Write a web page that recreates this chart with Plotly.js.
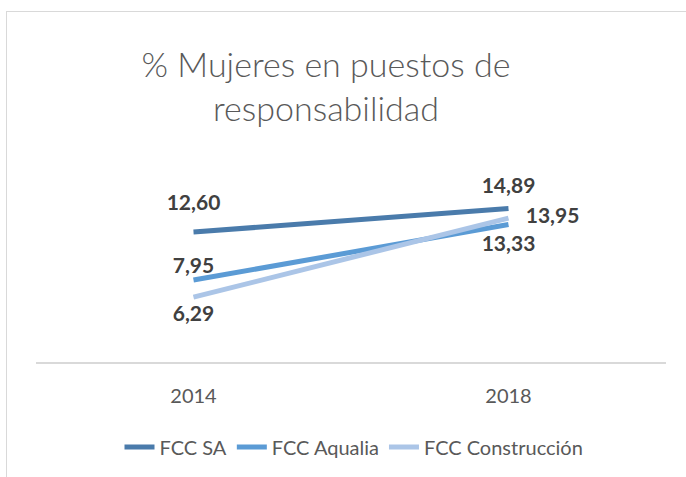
<!DOCTYPE html>
<html>
<head>
<meta charset="utf-8">
<script src="https://cdn.plot.ly/plotly-3.0.1.min.js"></script>
<style>
  html, body { margin: 0; padding: 0; background: #fff; }
  #wrap { position: relative; width: 686px; height: 477px; }
  #chart { width: 686px; height: 477px; }
  #frame { position: absolute; left: 6px; top: 11px; right: -2px; bottom: -2px;
           border-left: 1.5px solid #d9d9d9; border-top: 1.5px solid #d9d9d9; pointer-events: none; }
</style>
</head>
<body>
<div id="wrap">
  <div id="chart"></div>
  <div id="frame"></div>
</div>
<script>
const years = ['2014', '2018'];
const seriesNames = ['FCC SA', 'FCC Aqualia', 'FCC Construcción'];
const fccSA = [12.60, 14.89];
const fccAqualia = [7.95, 13.33];
const fccConstruccion = [6.29, 13.95];

const colors = ['#4a7bab', '#5b9bd5', '#abc5e7'];
const positions = [
  ['top center', 'top center'],
  ['top center', 'bottom center'],
  ['bottom center', 'middle right']
];
// invisible marker sizes only used to offset the data labels from the line ends
const labelOffsets = [
  [25, 14],
  [2, 16],
  [12, 26]
];
const values = [fccSA, fccAqualia, fccConstruccion];
const fmt = v => v.toFixed(2).replace('.', ',');
const FONT = 'Lato, "Open Sans", sans-serif';

const lineTraces = values.map((vals, i) => ({
  type: 'scatter',
  mode: 'lines',
  name: seriesNames[i],
  x: years,
  y: vals,
  line: { color: colors[i], width: 5 },
  cliponaxis: false,
  hoverinfo: 'skip'
}));

const labelTraces = values.map((vals, i) => ({
  type: 'scatter',
  mode: 'markers+text',
  name: seriesNames[i],
  showlegend: false,
  x: years,
  y: vals,
  text: vals.map(fmt),
  textposition: positions[i],
  textfont: { family: FONT, size: 21, color: '#404040', weight: 'bold' },
  marker: { size: labelOffsets[i], opacity: 0, color: colors[i] },
  cliponaxis: false,
  hoverinfo: 'skip'
}));

const layout = {
  width: 686,
  height: 477,
  margin: { l: 36, r: 20, t: 197, b: 115 },
  paper_bgcolor: '#ffffff',
  plot_bgcolor: '#ffffff',
  font: { family: FONT, color: '#595959' },
  title: {
    text: '% Mujeres en puestos de<br>responsabilidad',
    font: { family: FONT, size: 34, color: '#595959', weight: 300 },
    x: 326 / 686, xref: 'container', xanchor: 'center',
    y: 1 - 77 / 477, yref: 'container', yanchor: 'top'
  },
  xaxis: {
    type: 'category',
    range: [-0.5, 1.5],
    showline: true, linecolor: '#d9d9d9', linewidth: 1.5,
    showgrid: false, zeroline: false,
    ticks: '',
    ticklabelstandoff: 15,
    tickfont: { size: 20, color: '#595959' }
  },
  yaxis: {
    range: [0, 16],
    visible: false,
    showgrid: false, zeroline: false
  },
  showlegend: true,
  legend: {
    orientation: 'h',
    x: 354 / 686, xref: 'container', xanchor: 'center',
    y: 1 - 447 / 477, yref: 'container', yanchor: 'middle',
    font: { size: 20, color: '#595959' },
    traceorder: 'normal'
  }
};

Plotly.newPlot('chart', lineTraces.concat(labelTraces), layout, { displayModeBar: false, staticPlot: true });
</script>
</body>
</html>
